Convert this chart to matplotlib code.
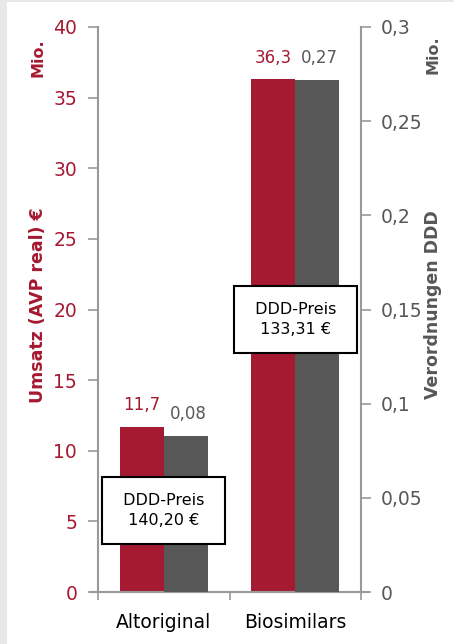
import numpy as np
import matplotlib.pyplot as plt
from matplotlib.patches import Rectangle

categories = ['Altoriginal', 'Biosimilars']
umsatz = [11.7, 36.3]          # Mio. EUR, left axis
verordnungen = [0.083, 0.272]  # Mio. DDD, right axis
umsatz_labels = ['11,7', '36,3']
verord_labels = ['0,08', '0,27']
preis_labels = ['DDD-Preis\n140,20 €', 'DDD-Preis\n133,31 €']
preis_pos = [5.75, 19.3]       # box centre on the left axis scale

RED = '#a51931'
GRAY = '#575757'
AXIS = '#999999'

plt.rcParams['font.family'] = ['DejaVu Sans']

fig = plt.figure(figsize=(4.54, 6.44), dpi=100)
fig.patch.set_facecolor('#e8e8e8')
fig.patches.append(Rectangle((7 / 454, 0), 1, 1 - 2 / 644, transform=fig.transFigure,
                             facecolor='white', edgecolor='none', zorder=-10))

ax = fig.add_axes([98 / 454, 1 - 592 / 644, 263 / 454, 565 / 644])
ax.set_facecolor('none')
ax2 = ax.twinx()

x = np.arange(len(categories))
w = 1 / 3
ax.bar(x - w / 2, umsatz, width=w, color=RED, zorder=2)
ax2.bar(x + w / 2, verordnungen, width=w, color=GRAY, zorder=2)

ax.set_xlim(-0.5, 1.5)
ax.set_ylim(0, 40)
ax2.set_ylim(0, 0.3)

ax.set_yticks(np.arange(0, 41, 5))
ax.set_yticklabels([str(v) for v in range(0, 41, 5)], color=RED, fontsize=13.5)
r_ticks = [0, 0.05, 0.1, 0.15, 0.2, 0.25, 0.3]
ax2.set_yticks(r_ticks)
ax2.set_yticklabels(['0', '0,05', '0,1', '0,15', '0,2', '0,25', '0,3'], color=GRAY, fontsize=13.5)

ax.set_xticks([-0.5, 0.5, 1.5])
ax.set_xticklabels([])
ax.tick_params(axis='x', length=6, color=AXIS, width=1.2)
for xi, c in zip(x, categories):
    ax.text(xi, -0.038, c, transform=ax.get_xaxis_transform(), ha='center', va='top', fontsize=13.5)

ax.tick_params(axis='y', length=7, color=AXIS, width=1.2, pad=8)
ax2.tick_params(axis='y', length=7, color=AXIS, width=1.2, pad=7)

for a in (ax, ax2):
    for s in a.spines.values():
        s.set_visible(False)
ax.spines['left'].set_visible(True)
ax.spines['left'].set_color(AXIS)
ax.spines['left'].set_linewidth(1.5)
ax2.spines['right'].set_visible(True)
ax2.spines['right'].set_color(AXIS)
ax2.spines['right'].set_linewidth(1.5)
ax.plot([-0.027, 1.027], [0, 0], transform=ax.transAxes, color=AXIS, lw=1.5, clip_on=False, zorder=3)

for xi, v, lab in zip(x, umsatz, umsatz_labels):
    ax.text(xi - w / 2, v + 0.9, lab, color=RED, ha='center', va='bottom', fontsize=12)
for xi, v, lab in zip(x, verordnungen, verord_labels):
    ax2.text(xi + w / 2 + 0.02, v + 0.0065, lab, color=GRAY, ha='center', va='bottom', fontsize=12)

# price boxes drawn on the top axes so they sit above both bar series
for xi, y, lab in zip(x, preis_pos, preis_labels):
    lab = '\n'.join(' ' + line + ' ' for line in lab.split('\n'))
    ax2.text(xi, y, lab, transform=ax.transData, ha='center', va='center', fontsize=11.5,
             linespacing=1.45, zorder=5,
             bbox=dict(boxstyle='square,pad=1.0', facecolor='white', edgecolor='black', linewidth=1.5))

fig.text(38 / 454, 1 - 305 / 644, 'Umsatz (AVP real) €', rotation=90, color=RED,
         fontsize=12.5, fontweight='bold', ha='center', va='center')
fig.text(38 / 454, 1 - 58 / 644, 'Mio.', rotation=90, color=RED,
         fontsize=11.5, fontweight='bold', ha='center', va='center')
fig.text(433 / 454, 1 - 305 / 644, 'Verordnungen DDD', rotation=90, color=GRAY,
         fontsize=12.5, fontweight='bold', ha='center', va='center')
fig.text(433 / 454, 1 - 55 / 644, 'Mio.', rotation=90, color=GRAY,
         fontsize=11.5, fontweight='bold', ha='center', va='center')

fig.savefig('out.png', dpi=100)
